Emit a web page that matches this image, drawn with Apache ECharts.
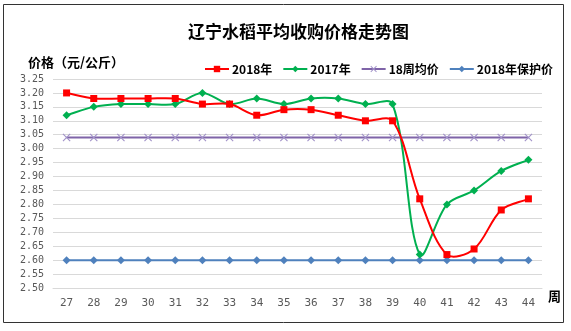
<!DOCTYPE html>
<html>
<head>
<meta charset="utf-8">
<script src="https://cdn.jsdelivr.net/npm/echarts@6/dist/echarts.min.js"></script>
<style>
  html, body { margin: 0; padding: 0; background: #fff; }
  #chart { width: 571px; height: 331px; }
</style>
</head>
<body>
<div id="chart"></div>
<script>
// Week numbers along the x axis
const weeks = ['27', '28', '29', '30', '31', '32', '33', '34', '35', '36', '37', '38', '39', '40', '41', '42', '43', '44'];

// Average purchase price per week (元/公斤)
const price2018 = [3.20, 3.18, 3.18, 3.18, 3.18, 3.16, 3.16, 3.12, 3.14, 3.14, 3.12, 3.10, 3.10, 2.82, 2.62, 2.64, 2.78, 2.82];
const price2017 = [3.12, 3.15, 3.16, 3.16, 3.16, 3.20, 3.16, 3.18, 3.16, 3.18, 3.18, 3.16, 3.16, 2.62, 2.80, 2.85, 2.92, 2.96];
const avg18Weeks = [3.04, 3.04, 3.04, 3.04, 3.04, 3.04, 3.04, 3.04, 3.04, 3.04, 3.04, 3.04, 3.04, 3.04, 3.04, 3.04, 3.04, 3.04];
const floor2018 = [2.60, 2.60, 2.60, 2.60, 2.60, 2.60, 2.60, 2.60, 2.60, 2.60, 2.60, 2.60, 2.60, 2.60, 2.60, 2.60, 2.60, 2.60];

const seriesNames = ['2018年', '2017年', '18周均价', '2018年保护价'];

const RED = '#FF0000';
const GREEN = '#00B050';
const PURPLE = '#7F64A8';
const BLUE = '#4F81BD';

// Thin "x" marker drawn as a filled outline
const crossPath = 'path://M0,1L1,0L5,4L9,0L10,1L6,5L10,9L9,10L5,6L1,10L0,9L4,5Z';

const cjk = '"Noto Sans CJK SC", "Noto Sans", sans-serif';
const mono = '"DejaVu Sans Mono", "Liberation Mono", monospace';

// Smooth curve through the points in pixel space: cubic Bezier segments whose
// control handles follow the neighbour direction, scaled by segment length.
function smoothPathData(values, api) {
  const pts = values.map((v, i) => api.coord([i, v]));
  const n = pts.length;
  const dist = (a, b) => Math.hypot(a[0] - b[0], a[1] - b[1]);
  const cpIn = [], cpOut = [];
  for (let i = 0; i < n; i++) {
    const prev = pts[Math.max(i - 1, 0)];
    const next = pts[Math.min(i + 1, n - 1)];
    const dx = next[0] - prev[0], dy = next[1] - prev[1];
    const lIn = dist(pts[i], prev), lOut = dist(pts[i], next);
    const sum = (lIn + lOut) || 1;
    const kIn = lIn / sum / 3, kOut = lOut / sum / 3;
    cpIn[i] = [pts[i][0] - dx * kIn, pts[i][1] - dy * kIn];
    cpOut[i] = [pts[i][0] + dx * kOut, pts[i][1] + dy * kOut];
  }
  let d = 'M' + pts[0][0] + ',' + pts[0][1];
  for (let i = 0; i < n - 1; i++) {
    d += 'C' + cpOut[i][0] + ',' + cpOut[i][1] + ' ' +
         cpIn[i + 1][0] + ',' + cpIn[i + 1][1] + ' ' +
         pts[i + 1][0] + ',' + pts[i + 1][1];
  }
  return d;
}

function curveSeries(id, values, color, z) {
  return {
    id: id,
    type: 'custom',
    coordinateSystem: 'cartesian2d',
    data: [[0, values[0]]],
    z: z,
    silent: true,
    renderItem: (params, api) => ({
      type: 'path',
      shape: { pathData: smoothPathData(values, api) },
      style: { fill: 'none', stroke: color, lineWidth: 2 }
    })
  };
}

const chart = echarts.init(document.getElementById('chart'), null, { renderer: 'canvas' });

chart.setOption({
  animation: false,
  backgroundColor: '#ffffff',
  title: {
    text: '辽宁水稻平均收购价格走势图',
    left: 188,
    top: 23,
    padding: 0,
    textStyle: { fontFamily: cjk, fontSize: 17, fontWeight: 'bold', color: '#000' }
  },
  legend: {
    left: 204,
    top: 63,
    padding: 0,
    itemWidth: 24,
    itemHeight: 8,
    itemGap: 10,
    textStyle: { fontFamily: cjk, fontSize: 12, fontWeight: 'bold', color: '#000', padding: [0, 0, 0, -2] },
    data: [
      { name: seriesNames[0], lineStyle: { opacity: 1, color: RED, width: 2 } },
      { name: seriesNames[1], lineStyle: { opacity: 1, color: GREEN, width: 2 } },
      { name: seriesNames[2] },
      { name: seriesNames[3] }
    ]
  },
  grid: { left: 53, right: 29, top: 79, bottom: 43, containLabel: false },
  xAxis: {
    type: 'category',
    data: weeks,
    boundaryGap: true,
    name: '周',
    nameLocation: 'end',
    nameGap: 6,
    nameTextStyle: { fontFamily: cjk, fontSize: 13, fontWeight: 'bold', color: '#000', verticalAlign: 'top', padding: [2, 0, 0, 0] },
    axisLine: { lineStyle: { color: '#D9D9D9', width: 1 } },
    axisTick: { show: false },
    axisLabel: { fontFamily: mono, fontSize: 11, color: '#595959', margin: 10 }
  },
  yAxis: {
    type: 'value',
    min: 2.5,
    max: 3.25,
    interval: 0.05,
    axisLine: { show: false },
    axisTick: { show: false },
    splitLine: { lineStyle: { color: '#D9D9D9', width: 1 } },
    axisLabel: {
      fontFamily: mono, fontSize: 10, color: '#595959', margin: 9,
      formatter: v => v.toFixed(2)
    }
  },
  graphic: [
    {
      type: 'rect',
      shape: { x: 3.5, y: 4.5, width: 560, height: 318 },
      style: { fill: 'none', stroke: '#333', lineWidth: 1 },
      silent: true
    },
    {
      type: 'text',
      left: 28,
      top: 56,
      style: { text: '价格（元/公斤）', font: 'bold 13px ' + cjk, fill: '#000' }
    }
  ],
  series: [
    // smoothed curves for the two yearly price lines
    curveSeries('curve2018', price2018, RED, 3),
    curveSeries('curve2017', price2017, GREEN, 2),
    {
      name: seriesNames[0],
      type: 'line',
      data: price2018,
      symbol: 'rect',
      symbolSize: 7,
      z: 6,
      lineStyle: { color: RED, width: 2, opacity: 0 },
      itemStyle: { color: RED }
    },
    {
      name: seriesNames[1],
      type: 'line',
      data: price2017,
      symbol: 'diamond',
      symbolSize: 8,
      z: 5,
      lineStyle: { color: GREEN, width: 2, opacity: 0 },
      itemStyle: { color: GREEN }
    },
    {
      name: seriesNames[2],
      type: 'line',
      data: avg18Weeks,
      symbol: crossPath,
      symbolSize: 8,
      z: 2,
      lineStyle: { color: PURPLE, width: 2 },
      itemStyle: { color: '#A293C9' }
    },
    {
      name: seriesNames[3],
      type: 'line',
      data: floor2018,
      symbol: 'diamond',
      symbolSize: 8,
      z: 2,
      lineStyle: { color: BLUE, width: 2 },
      itemStyle: { color: BLUE }
    }
  ]
});
</script>
</body>
</html>
